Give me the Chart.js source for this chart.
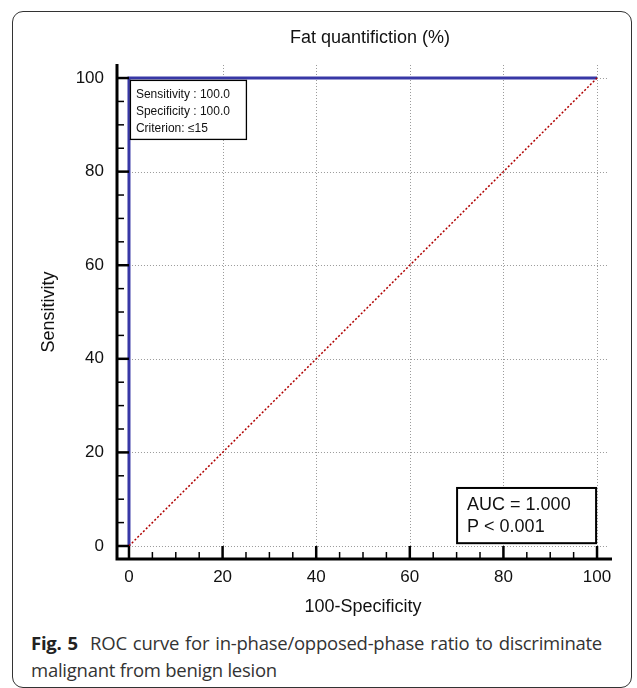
<!DOCTYPE html>
<html>
<head>
<meta charset="utf-8">
<script src="https://cdn.jsdelivr.net/npm/chart.js@4.4.1/dist/chart.umd.min.js"></script>
<style>
  body { margin: 0; background: #fff; }
  #frame {
    position: absolute; left: 12px; top: 11px; width: 620px; height: 677px;
    border: 1.5px solid #333; border-radius: 11px; box-sizing: border-box;
  }
  #wrap { position: absolute; left: 0; top: 0; }
  #caption {
    position: absolute; left: 31px; top: 629px; width: 571px;
    font-family: "Open Sans", sans-serif; font-size: 18.5px; line-height: 27px;
    color: #333; letter-spacing: -0.25px; text-align: justify;
  }
  #caption b { color: #222; }
</style>
</head>
<body>
<div id="frame"></div>
<div id="wrap"><canvas id="myChart" width="637" height="620"></canvas></div>
<div id="caption"><b>Fig. 5</b>&nbsp; ROC curve for in-phase/opposed-phase ratio to discriminate malignant from benign lesion</div>
<script>
// ROC curve and reference line
const rocX = [0, 0, 100];
const rocY = [0, 100, 100];
const refX = [0, 100];
const refY = [0, 100];
// tick labels
const xTicks = [0, 20, 40, 60, 80, 100];
const yTicks = [0, 20, 40, 60, 80, 100];
const minorStep = 5;
const infoLines = ['Sensitivity : 100.0', 'Specificity : 100.0', 'Criterion: \u226415'];
const aucLines = ['AUC = 1.000', 'P < 0.001'];

const FONT = '"Liberation Sans", Arial, sans-serif';

function toPoints(xs, ys) {
    return xs.map((x, i) => ({ x: x, y: ys[i] }));
}

// Axes, grid and boxes drawn with the chart's own scales
const rocAxes = {
    id: 'rocAxes',
    beforeDatasetsDraw(chart) {
        const ctx = chart.ctx;
        const xs = chart.scales.x, ys = chart.scales.y;
        ctx.save();
        ctx.strokeStyle = '#9a9a9a';
        ctx.lineWidth = 1;
        ctx.setLineDash([1, 2]);
        xTicks.forEach(v => {
            if (v === 0) return;
            const px = Math.round(xs.getPixelForValue(v)) + 0.5;
            ctx.beginPath();
            ctx.moveTo(px, ys.getPixelForValue(0));
            ctx.lineTo(px, ys.getPixelForValue(103));
            ctx.stroke();
        });
        yTicks.forEach(v => {
            const py = Math.round(ys.getPixelForValue(v)) + 0.5;
            ctx.beginPath();
            ctx.moveTo(xs.getPixelForValue(0), py);
            ctx.lineTo(xs.getPixelForValue(102.5), py);
            ctx.stroke();
        });
        ctx.restore();
    },
    afterDatasetsDraw(chart) {
        const ctx = chart.ctx;
        const a = chart.chartArea;
        const xs = chart.scales.x, ys = chart.scales.y;
        ctx.save();
        ctx.strokeStyle = '#000';
        ctx.fillStyle = '#111';
        // axis lines
        ctx.lineWidth = 3;
        ctx.beginPath();
        ctx.moveTo(a.left, a.top);
        ctx.lineTo(a.left, a.bottom);
        ctx.lineTo(a.right, a.bottom);
        ctx.stroke();
        // minor ticks
        ctx.lineWidth = 1.5;
        for (let v = 0; v <= 100; v += minorStep) {
            if (v % 20 === 0) continue;
            const py = ys.getPixelForValue(v);
            ctx.beginPath();
            ctx.moveTo(a.left, py);
            ctx.lineTo(a.left + 7, py);
            ctx.stroke();
            const px = xs.getPixelForValue(v);
            ctx.beginPath();
            ctx.moveTo(px, a.bottom);
            ctx.lineTo(px, a.bottom - 7);
            ctx.stroke();
        }
        // major ticks
        ctx.lineWidth = 2.5;
        yTicks.forEach(v => {
            const py = ys.getPixelForValue(v);
            ctx.beginPath();
            ctx.moveTo(a.left, py);
            ctx.lineTo(xs.getPixelForValue(0), py);
            ctx.stroke();
        });
        xTicks.forEach(v => {
            const px = xs.getPixelForValue(v);
            ctx.beginPath();
            ctx.moveTo(px, a.bottom);
            ctx.lineTo(px, ys.getPixelForValue(0));
            ctx.stroke();
        });
        // tick labels
        ctx.font = '17px ' + FONT;
        ctx.textAlign = 'right';
        ctx.textBaseline = 'middle';
        yTicks.forEach(v => ctx.fillText(String(v), a.left - 13, ys.getPixelForValue(v)));
        ctx.textAlign = 'center';
        ctx.textBaseline = 'top';
        xTicks.forEach(v => ctx.fillText(String(v), xs.getPixelForValue(v), a.bottom + 10));
        // axis titles
        ctx.font = '18px ' + FONT;
        ctx.textBaseline = 'middle';
        ctx.fillText('100-Specificity', xs.getPixelForValue(50), 607);
        ctx.fillText('Fat quantifiction (%)', xs.getPixelForValue(51.5), 38);
        ctx.save();
        ctx.translate(49, ys.getPixelForValue(50));
        ctx.rotate(-Math.PI / 2);
        ctx.fillText('Sensitivity', 0, 0);
        ctx.restore();

        // info box (top left)
        const b1x = xs.getPixelForValue(0.2), b1y = ys.getPixelForValue(99.6);
        const b1w = 116, b1h = 59;
        ctx.fillStyle = '#fff';
        ctx.fillRect(b1x, b1y, b1w, b1h);
        ctx.lineWidth = 1.3;
        ctx.strokeRect(b1x + 0.5, b1y + 0.5, b1w, b1h);
        ctx.fillStyle = '#111';
        ctx.font = '12px ' + FONT;
        ctx.textAlign = 'left';
        ctx.textBaseline = 'alphabetic';
        infoLines.forEach((t, i) => ctx.fillText(t, b1x + 6, b1y + 18 + i * 17));

        // AUC box (bottom right)
        const b2x = xs.getPixelForValue(70.1), b2y = ys.getPixelForValue(12.4);
        const b2w = xs.getPixelForValue(99.8) - b2x, b2h = ys.getPixelForValue(0.6) - b2y;
        ctx.fillStyle = '#fff';
        ctx.fillRect(b2x, b2y, b2w, b2h);
        ctx.lineWidth = 2;
        ctx.strokeRect(b2x, b2y, b2w, b2h);
        ctx.fillStyle = '#111';
        ctx.font = '18px ' + FONT;
        aucLines.forEach((t, i) => ctx.fillText(t, b2x + 10, b2y + 22 + i * 22));
        ctx.restore();
    }
};

const ctx = document.getElementById('myChart').getContext('2d');
new Chart(ctx, {
    type: 'scatter',
    data: {
        datasets: [{
            label: 'Reference',
            data: toPoints(refX, refY),
            showLine: true,
            borderColor: '#b00000',
            borderWidth: 1.5,
            borderDash: [2, 2],
            pointRadius: 0
        }, {
            label: 'ROC',
            data: toPoints(rocX, rocY),
            showLine: true,
            borderColor: '#3838a6',
            borderWidth: 3,
            pointRadius: 0
        }]
    },
    options: {
        responsive: false,
        animation: false,
        layout: { padding: { left: 117, top: 64, right: 25, bottom: 61 } },
        plugins: {
            legend: { display: false },
            tooltip: { enabled: false }
        },
        scales: {
            x: { type: 'linear', min: -2.56, max: 103.2, display: false },
            y: { type: 'linear', min: -2.78, max: 103.0, display: false }
        }
    },
    plugins: [rocAxes]
});
</script>
</body>
</html>
